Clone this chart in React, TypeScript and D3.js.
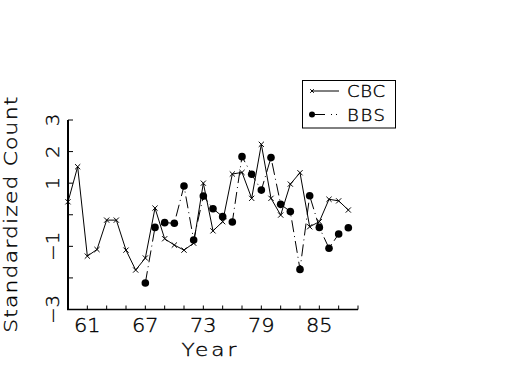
import React from "react";
import * as d3 from "d3";

const cbcYears = [59, 60, 61, 62, 63, 64, 65, 66, 67, 68, 69, 70, 71, 72, 73, 74, 75, 76, 77, 78, 79, 80, 81, 82, 83, 84, 85, 86, 87, 88];
const cbcValues = [0.41, 1.52, -1.31, -1.1, -0.17, -0.17, -1.12, -1.75, -1.37, 0.21, -0.76, -0.96, -1.12, -0.9, 1.0, -0.51, -0.22, 1.29, 1.34, 0.52, 2.23, 0.52, -0.01, 0.97, 1.33, -0.38, -0.22, 0.49, 0.44, 0.15];
const bbsYears = [67, 68, 69, 70, 71, 72, 73, 74, 75, 76, 77, 78, 79, 80, 81, 82, 83, 84, 85, 86, 87, 88];
const bbsValues = [-2.16, -0.4, -0.25, -0.27, 0.91, -0.8, 0.59, 0.19, -0.06, -0.23, 1.84, 1.28, 0.78, 1.81, 0.33, 0.1, -1.73, 0.6, -0.4, -1.06, -0.61, -0.41];
const xTicks = [59, 61, 63, 65, 67, 69, 71, 73, 75, 77, 79, 81, 83, 85, 87, 89];
const xTickLabels = [61, 67, 73, 79, 85];
const yTicks = [-3, -2, -1, 0, 1, 2, 3];
const yTickLabels = [-3, -1, 1, 2, 3];

const FONT = "'DejaVu Sans', sans-serif";
const textStyle = { fontFamily: FONT, fontWeight: 200, fill: "#000", stroke: "#000", strokeWidth: 0.35 };

export default function App() {
  const x = d3.scaleLinear().domain([59, 89]).range([68, 358]);
  const y = d3.scaleLinear().domain([-3, 3]).range([309.5, 120]);

  const line = d3
    .line<[number, number]>()
    .x((d) => x(d[0]))
    .y((d) => y(d[1]));

  const cbc: [number, number][] = cbcYears.map((yr, i) => [yr, cbcValues[i]]);
  const bbs: [number, number][] = bbsYears.map((yr, i) => [yr, bbsValues[i]]);

  const cross = (cx: number, cy: number, s = 2.6) =>
    `M${cx - s},${cy - s}L${cx + s},${cy + s}M${cx - s},${cy + s}L${cx + s},${cy - s}`;

  const fmt = (v: number) => (v < 0 ? "\u2212" + Math.abs(v) : String(v));

  return (
    <div style={{ position: "fixed", left: 0, top: 0 }}>
      <svg width={525} height={375} style={{ display: "block", background: "#fff" }}>
        {/* axes */}
        <line x1={x(59)} x2={x(59)} y1={y(-3)} y2={y(3)} stroke="#000" strokeWidth={2} />
        <line x1={x(59) - 1} x2={x(89)} y1={y(-3)} y2={y(-3)} stroke="#000" strokeWidth={1.5} />
        {yTicks.map((t) => (
          <line key={"yt" + t} x1={x(59)} x2={x(59) + 5} y1={y(t)} y2={y(t)} stroke="#000" strokeWidth={1} />
        ))}
        {xTicks.map((t) => (
          <line key={"xt" + t} x1={x(t)} x2={x(t)} y1={y(-3)} y2={y(-3) - 4} stroke="#000" strokeWidth={1} />
        ))}
        {xTickLabels.map((t) => (
          <text key={"xl" + t} transform={`translate(${x(t)},331.5) scale(1.1,1)`} textAnchor="middle" fontSize={19} style={textStyle}>
            {t}
          </text>
        ))}
        {yTickLabels.map((t) => (
          <text
            key={"yl" + t}
            transform={`translate(58.5,${y(t)}) rotate(-90) scale(1.1,1)`}
            textAnchor="middle"
            fontSize={18}
            style={textStyle}
          >
            {fmt(t)}
          </text>
        ))}
        <text
          transform={`translate(209,356) scale(1.2,1)`}
          textAnchor="middle"
          fontSize={18}
          textLength={55 / 1.2}
          lengthAdjust="spacing"
          style={textStyle}
        >
          Year
        </text>
        <text
          transform={`translate(17,${(y(-3) + y(3)) / 2}) rotate(-90) scale(1.25,1)`}
          textAnchor="middle"
          fontSize={17.5}
          textLength={236 / 1.25}
          lengthAdjust="spacing"
          style={textStyle}
        >
          Standardized Count
        </text>

        {/* series */}
        <path d={line(cbc) || ""} fill="none" stroke="#000" strokeWidth={1} />
        {cbc.map((d, i) => (
          <path key={"c" + i} d={cross(x(d[0]), y(d[1]))} stroke="#000" strokeWidth={1} fill="none" />
        ))}
        <path d={line(bbs) || ""} fill="none" stroke="#000" strokeWidth={1} strokeDasharray="12,4,1,4" />
        {bbs.map((d, i) => (
          <circle key={"b" + i} cx={x(d[0])} cy={y(d[1])} r={3.8} fill="#000" />
        ))}

        {/* legend */}
        <rect x={302.5} y={80.5} width={93} height={47.5} fill="#fff" stroke="#000" strokeWidth={1} />
        <line x1={312} x2={339} y1={91} y2={91} stroke="#000" strokeWidth={1} />
        <path d={cross(312, 91, 1.8)} stroke="#000" strokeWidth={1} fill="none" />
        <text
          transform="translate(347,97) scale(1.2,1)"
          fontSize={15}
          textLength={38 / 1.2}
          lengthAdjust="spacing"
          style={textStyle}
        >
          CBC
        </text>
        <line x1={312} x2={338} y1={114.5} y2={114.5} stroke="#000" strokeWidth={1} strokeDasharray="13,6,1,4,1,20" />
        <circle cx={312} cy={114.5} r={3} fill="#000" />
        <text
          transform="translate(347,120.5) scale(1.2,1)"
          fontSize={15}
          textLength={38 / 1.2}
          lengthAdjust="spacing"
          style={textStyle}
        >
          BBS
        </text>
      </svg>
    </div>
  );
}
